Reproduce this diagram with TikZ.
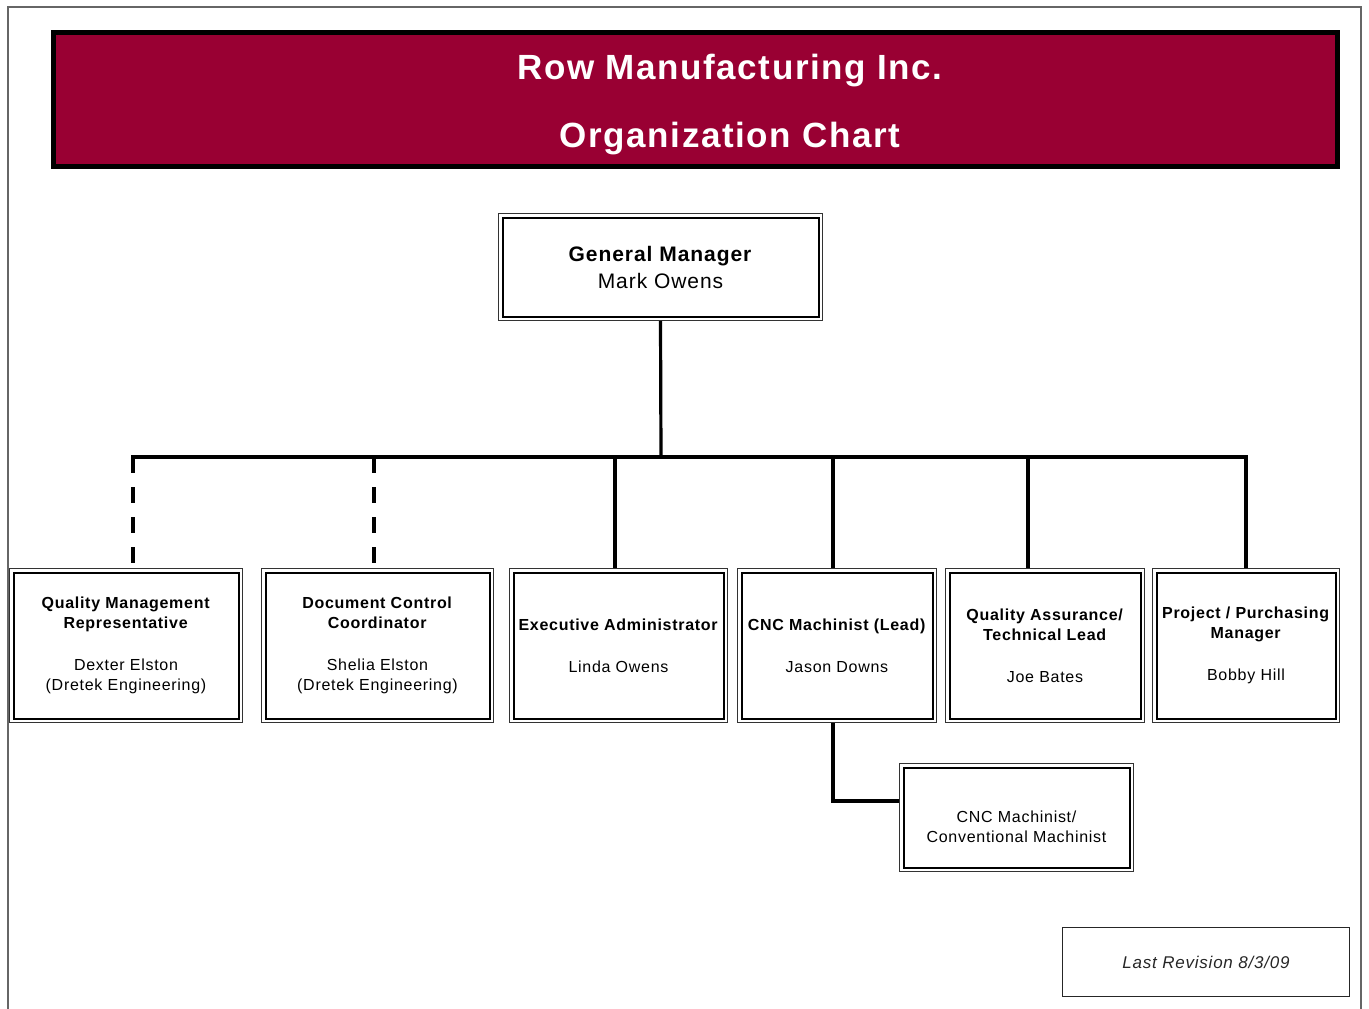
\documentclass[tikz,border=0pt]{standalone}
\usepackage{fontspec}
\setmainfont{Liberation Sans}[LetterSpace=4.5]
\usetikzlibrary{positioning,calc}
\definecolor{rowred}{HTML}{990033}
\tikzset{
    post/.style =   {rectangle,
                    fill=white,
                    draw=black,
                    text=black,
                    line width=2pt,
                    preaction={draw=black!80, line width=9pt},
                    preaction={draw=white, line width=7pt},
                    align=center,
                    inner sep=0pt,
                    outer sep=4.5pt,
                    font=\fontsize{16}{20}\selectfont},
    banner/.style = {rectangle,
                    fill=rowred,
                    draw=black,
                    line width=5pt,
                    inner sep=0pt,
                    minimum width=1284pt,
                    minimum height=134pt},
    title/.style =  {text=white,
                    anchor=base,
                    font=\fontsize{35}{42}\selectfont\bfseries},
    note/.style =   {rectangle,
                    draw=black!85,
                    line width=1pt,
                    text=black!85,
                    minimum width=287pt,
                    minimum height=69pt,
                    font=\fontsize{17}{20}\selectfont\itshape},
    -,
    link/.style =   {draw=black, line width=3.2pt},
    dlink/.style =  {draw=black, line width=3.6pt, dash pattern=on 16pt off 14pt},
    frame/.style =  {draw=black!60, line width=1.5pt}}

\begin{document}
\begin{tikzpicture}[x=1pt,y=-1pt]
                \useasboundingbox (0,0) rectangle (1369,1009);
                \draw[frame] (8,1009) |- (1361,7) -- (1361,1009);
                \node[banner]   (TB) at (695.5,99.5)    {};
                \node[title]    (T1) at (730,79)        {Row Manufacturing Inc.};
                \node[title]    (T2) at (730,147)       {Organization Chart};
                \node[post, minimum width=316pt, minimum height=99pt,
                      font=\fontsize{21}{27}\selectfont]
                                (GM) at (660.5,267)     {\textbf{General Manager}\\Mark Owens};
                \node[post, minimum width=225pt, minimum height=146pt]
                                (QMR) at (126,645.5)    {\textbf{Quality Management}\\\textbf{Representative}\\[22pt]Dexter Elston\\(Dretek Engineering)};
                \node[post, minimum width=224pt, minimum height=146pt]
                                (DCC) at (377.5,645.5)  {\textbf{Document Control}\\\textbf{Coordinator}\\[22pt]Shelia Elston\\(Dretek Engineering)};
                \node[post, minimum width=210pt, minimum height=146pt]
                                (EA) at (618.5,645.5)   {\textbf{Executive Administrator}\\[22pt]Linda Owens};
                \node[post, minimum width=191pt, minimum height=146pt]
                                (CNC) at (837,645.5)    {\textbf{CNC Machinist (Lead)}\\[22pt]Jason Downs};
                \node[post, minimum width=191pt, minimum height=146pt]
                                (QA) at (1045,645.5)    {\textbf{Quality Assurance/}\\\textbf{Technical Lead}\\[22pt]Joe Bates};
                \node[post, minimum width=179pt, minimum height=146pt]
                                (PPM) at (1246,645.5)   {\textbf{Project / Purchasing}\\\textbf{Manager}\\[22pt]Bobby Hill};
                \node[post, minimum width=226pt, minimum height=100pt]
                                (SUB) at (1016.5,817.5) {\rule{0pt}{30pt}CNC Machinist/\\Conventional Machinist};
                \node[note]     (REV) at (1206,962)     {Last Revision 8/3/09};
                \coordinate     (J)  at (661,457);
                \coordinate     (D1) at (133,457);
                \coordinate     (D2) at (374,457);
                \coordinate     (D3) at (615,457);
                \coordinate     (D4) at (833,457);
                \coordinate     (D5) at (1028,457);
                \coordinate     (D6) at (1246,457);
                \path [link]    (GM.south) -- (J);
                \path [link, line cap=rect] (D1) -- (D6);
                \path [dlink]   (D1) -- (D1 |- QMR.north)
                                (D2) -- (D2 |- DCC.north);
                \path [link]    (D3) -- (D3 |- EA.north)
                                (D4) -- (D4 |- CNC.north)
                                (D5) -- (D5 |- QA.north)
                                (D6) -- (PPM.north);
                \path [link]    (D4 |- CNC.south) |- ([yshift=16.5pt]SUB.west);
        \end{tikzpicture}
\end{document}
